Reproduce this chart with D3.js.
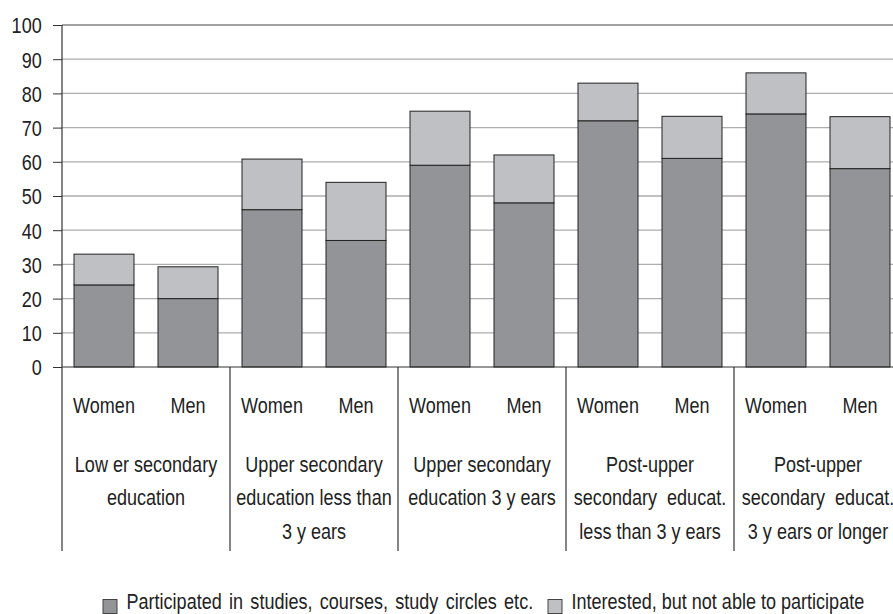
<!DOCTYPE html>
<html>
<head>
<meta charset="utf-8">
<script src="https://cdn.jsdelivr.net/npm/d3@7"></script>
<style>
  html, body { margin: 0; padding: 0; background: #fff; }
  svg { display: block; font-family: "Liberation Sans", Arial, sans-serif; }
</style>
</head>
<body>
<svg id="chart" width="893" height="614"></svg>
<script>
// ---- data ----
const groups = [
  ["Low er secondary", "education"],
  ["Upper secondary", "education less than", "3 y ears"],
  ["Upper secondary", "education 3 y ears"],
  ["Post-upper", "secondary  educat.", "less than 3 y ears"],
  ["Post-upper", "secondary  educat.", "3 y ears or longer"]
];
const sexes = ["Women", "Men"];
const participated = [24, 20, 46, 37, 59, 48, 72, 61, 74, 58];
const interested = [9, 9.3, 14.8, 17, 15.8, 14, 11, 12.3, 12, 15.2];
const seriesNames = ["Participated in studies, courses, study circles etc.", "Interested, but not able to participate"];
const yTicks = [0, 10, 20, 30, 40, 50, 60, 70, 80, 90, 100];

// ---- layout ----
const svg = d3.select("#chart");
const mLeft = 62, mRight = 902, mTop = 25, mBottom = 367, lowerEnd = 551;
const colors = ["#939498", "#bfc0c4"];
const FS = 22, SX = 0.82, TXT = "#222";

const bars = [];
groups.forEach((g, gi) => sexes.forEach((s, si) => {
  const i = gi * 2 + si;
  bars.push({ key: gi + "-" + s, sex: s, group: gi, p: participated[i], q: interested[i] });
}));

const x = d3.scaleBand().domain(bars.map(d => d.key)).range([mLeft, mRight]).paddingInner(0.2857).paddingOuter(0.1429);
const xg = d3.scaleBand().domain(groups.map((g, i) => i)).range([mLeft, mRight]);
const y = d3.scaleLinear().domain([0, 100]).range([mBottom, mTop]);

// narrow text helper
function ntext(sel, px, py, anchor) {
  return sel.append("g").attr("transform", `translate(${px},${py})`)
    .append("text").attr("transform", `scale(${SX},1)`)
    .attr("text-anchor", anchor).attr("font-size", FS).attr("fill", TXT)
    .style("white-space", "pre");
}

// gridlines
svg.append("g").selectAll("line").data(yTicks.filter(t => t > 0 && t < 100)).join("line")
  .attr("x1", mLeft).attr("x2", 893).attr("y1", d => y(d)).attr("y2", d => y(d))
  .attr("stroke", "#adadad").attr("stroke-width", 1.3);
// top border
svg.append("line").attr("x1", mLeft).attr("x2", 893).attr("y1", y(100)).attr("y2", y(100))
  .attr("stroke", "#444").attr("stroke-width", 1.2);

// bars
const bg = svg.append("g");
bg.selectAll("rect.p").data(bars).join("rect").attr("class", "p")
  .attr("x", d => x(d.key)).attr("width", x.bandwidth())
  .attr("y", d => y(d.p)).attr("height", d => y(0) - y(d.p))
  .attr("fill", colors[0]).attr("stroke", "#222").attr("stroke-width", 1);
bg.selectAll("rect.q").data(bars).join("rect").attr("class", "q")
  .attr("x", d => x(d.key)).attr("width", x.bandwidth())
  .attr("y", d => y(d.p + d.q)).attr("height", d => y(d.p) - y(d.p + d.q))
  .attr("fill", colors[1]).attr("stroke", "#222").attr("stroke-width", 1);

// y axis
const yAxis = d3.axisLeft(y).tickValues(yTicks).tickSize(9).tickPadding(11);
const ya = svg.append("g").attr("transform", `translate(${mLeft},0)`).call(yAxis);
ya.select(".domain").remove();
ya.selectAll(".tick line").attr("stroke", "#333").attr("stroke-width", 1);
ya.selectAll(".tick text").attr("font-size", FS).attr("fill", TXT)
  .attr("font-family", "'Liberation Sans', Arial, sans-serif")
  .attr("x", -20.3 / SX).attr("dy", "0.36em")
  .attr("transform", `scale(${SX},1)`);
svg.append("line").attr("x1", mLeft).attr("x2", mLeft).attr("y1", mTop).attr("y2", lowerEnd)
  .attr("stroke", "#333").attr("stroke-width", 1.2);

// x baseline
svg.append("line").attr("x1", mLeft).attr("x2", 893).attr("y1", y(0)).attr("y2", y(0))
  .attr("stroke", "#333").attr("stroke-width", 1.2);

// group dividers
svg.append("g").selectAll("line").data(groups.map((g, i) => i).slice(1)).join("line")
  .attr("x1", d => xg(d)).attr("x2", d => xg(d)).attr("y1", y(0)).attr("y2", lowerEnd)
  .attr("stroke", "#333").attr("stroke-width", 1.2);

// sex labels
const sl = svg.append("g");
bars.forEach(d => ntext(sl, x(d.key) + x.bandwidth() / 2, 412.5, "middle").text(d.sex));

// group labels
const gl = svg.append("g");
groups.forEach((g, i) => {
  g.forEach((line, li) => {
    ntext(gl, xg(i) + xg.bandwidth() / 2, 471.5 + li * 33.7, "middle").text(line);
  });
});

// legend
const legendX = [103, 548];
const wordSp = [2.8, 0];
const lg = svg.append("g");
seriesNames.forEach((name, i) => {
  lg.append("rect").attr("x", legendX[i]).attr("y", 599.5).attr("width", 14).attr("height", 14)
    .attr("fill", colors[i]).attr("stroke", "#444").attr("stroke-width", 1);
  ntext(lg, legendX[i] + 23.5, 608.5, "start").attr("word-spacing", wordSp[i]).text(name);
});
</script>
</body>
</html>
